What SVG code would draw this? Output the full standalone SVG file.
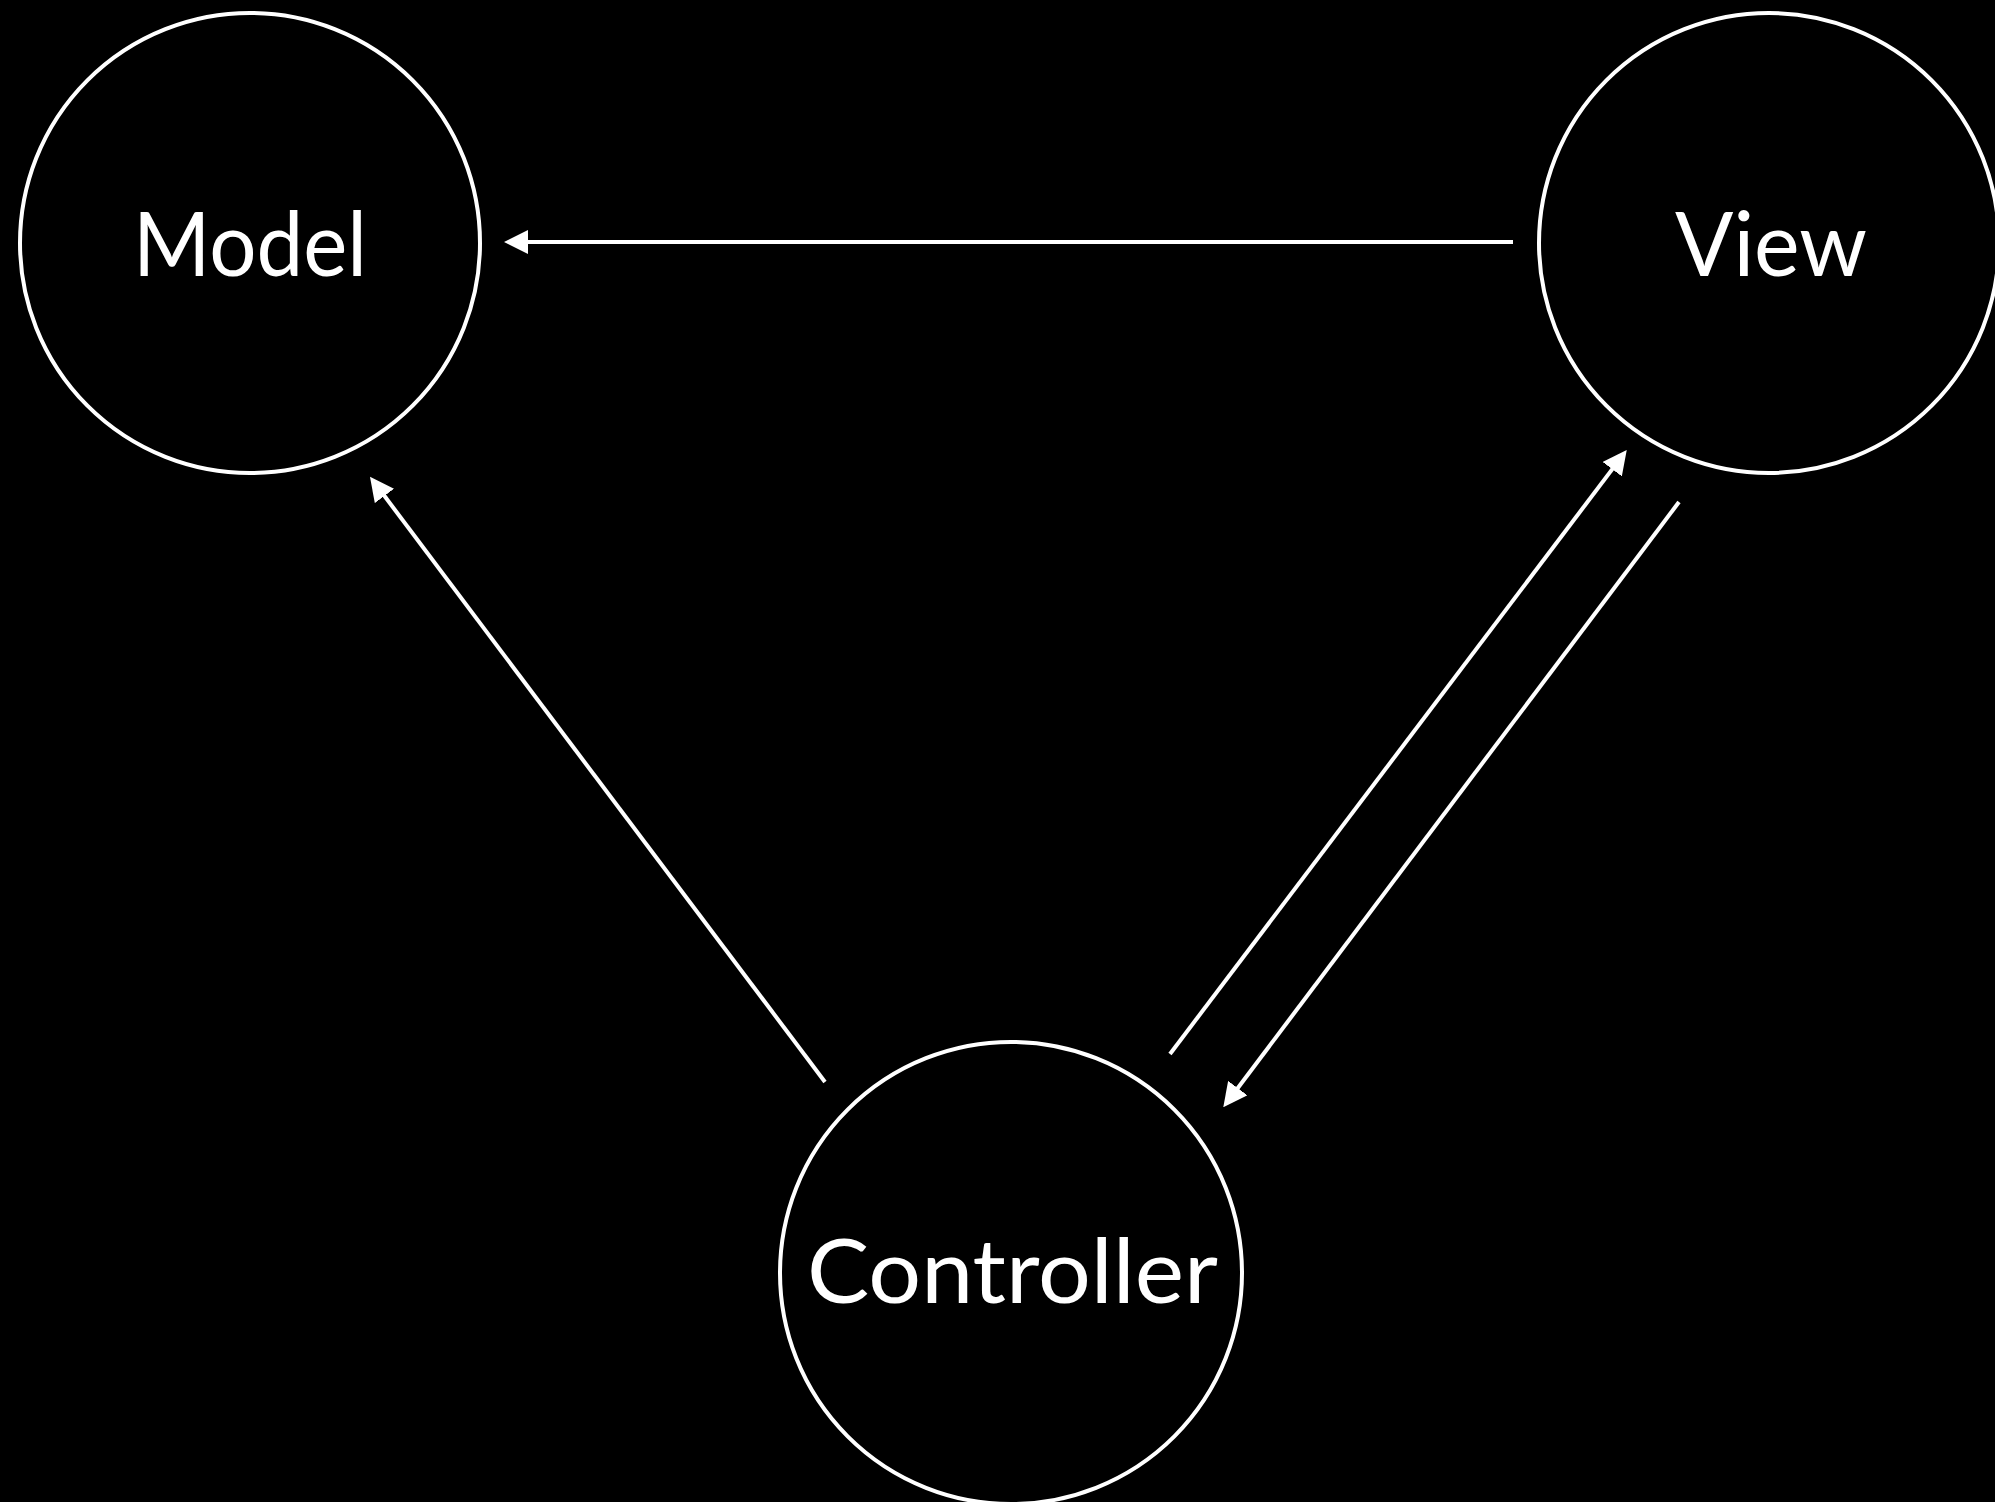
<svg xmlns="http://www.w3.org/2000/svg" width="1995" height="1502" viewBox="0 0 1995 1502">
  <style>
    .node { fill: #000; stroke: #fff; stroke-width: 4; }
    .label { fill: #fff; font-family: Lato, "Open Sans", "Liberation Sans", sans-serif; font-size: 90px; }
    .link { stroke: #fff; stroke-width: 4; fill: none; marker-end: url(#arrow); }
  </style>
  <defs>
    <marker id="arrow" viewBox="0 0 24 24" markerWidth="24" markerHeight="24" markerUnits="userSpaceOnUse" refX="12" refY="12" orient="auto">
      <path d="M0,0 L24,12 L0,24 z" fill="#fff"/>
    </marker>
  </defs>
  <rect x="0" y="0" width="1995" height="1502" fill="#000"/>

  <g id="model">
    <circle class="node" cx="250" cy="243" r="230"/>
    <text class="label" x="133" y="276" textLength="234" lengthAdjust="spacingAndGlyphs">Model</text>
  </g>

  <g id="view">
    <circle class="node" cx="1769" cy="243" r="230"/>
    <text class="label" x="1675" y="276" textLength="192" lengthAdjust="spacingAndGlyphs">View</text>
  </g>

  <g id="controller">
    <circle class="node" cx="1011" cy="1273" r="231"/>
    <text class="label" x="807" y="1303" textLength="411" lengthAdjust="spacingAndGlyphs">Controller</text>
  </g>

  <g id="connectors">
    <!-- View to Model -->
    <line class="link" x1="1513" y1="242" x2="516" y2="242"/>
    <!-- Controller to Model -->
    <line class="link" x1="825" y1="1082" x2="377.2" y2="486.3"/>
    <!-- Controller to View -->
    <line class="link" x1="1170" y1="1054" x2="1619.5" y2="459.6"/>
    <!-- View to Controller -->
    <line class="link" x1="1679" y1="502" x2="1230.5" y2="1097.7"/>
  </g>
</svg>
